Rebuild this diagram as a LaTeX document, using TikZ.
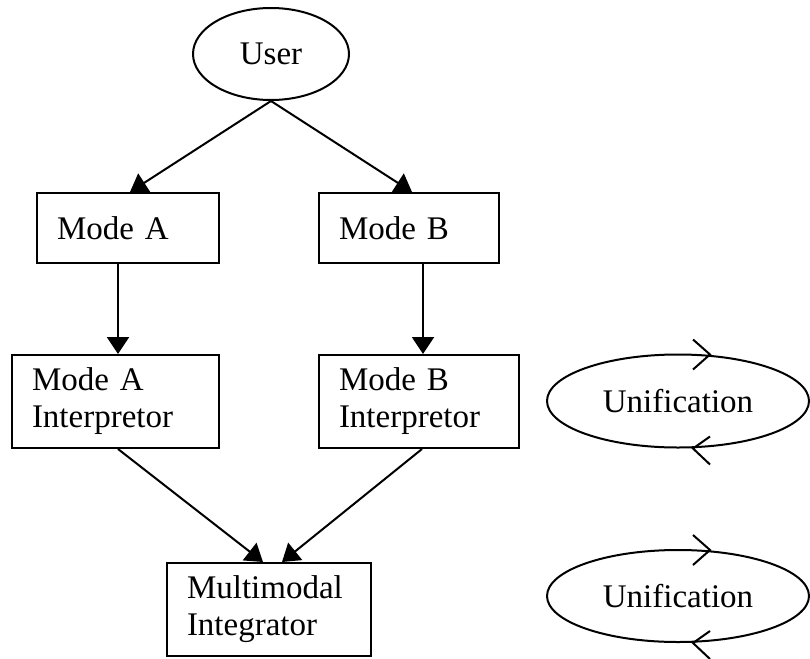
\documentclass[tikz,border=0pt]{standalone}
\usepackage{fontspec}
\setmainfont{Liberation Serif}
\usetikzlibrary{arrows.meta,shapes.geometric}
\begin{document}
\begin{tikzpicture}[x=1pt,y=-1pt,
  every node/.style={font=\fontsize{33}{37}\selectfont},
  boxnode/.style={draw,line width=2pt,rectangle,inner xsep=20pt,inner ysep=0pt,align=left},
  ellnode/.style={draw,line width=2pt,ellipse,inner sep=0pt},
  conn/.style={line width=2pt,-{Triangle[length=17pt,width=22pt]}},
  chev/.style={line width=2pt}]
\useasboundingbox (0,0) rectangle (810,658);
\node[ellnode,minimum width=156pt,minimum height=92pt] (user) at (271,54) {User};
\node[boxnode,minimum width=182pt,minimum height=70pt,text width=142pt] (ma) at (128,228) {Mode A};
\node[boxnode,minimum width=180pt,minimum height=70pt,text width=140pt] (mb) at (409,228) {Mode B};
\node[boxnode,minimum width=207pt,minimum height=93pt,text width=167pt] (mai) at (115.5,401.5) {Mode A\\Interpretor};
\node[boxnode,minimum width=200pt,minimum height=93pt,text width=160pt] (mbi) at (419,401.5) {Mode B\\Interpretor};
\node[boxnode,minimum width=204pt,minimum height=93pt,text width=164pt] (mi) at (269,609.5) {Multimodal\\Integrator};
\node[ellnode,minimum width=262pt,minimum height=93pt] (u1) at (678,401) {Unification};
\node[ellnode,minimum width=262pt,minimum height=92pt] (u2) at (678,596) {Unification};
\draw[conn] (user.south) -- ([xshift=2pt]ma.north);
\draw[conn] (user.south) -- ([xshift=3pt]mb.north);
\draw[conn] ([xshift=-10pt]ma.south) -- ([xshift=2.5pt]mai.north);
\draw[conn] ([xshift=14pt]mb.south) -- ([xshift=4pt]mbi.north);
\draw[conn] ([xshift=2.5pt]mai.south) -- ([xshift=-6pt]mi.north);
\draw[conn] ([xshift=3pt]mbi.south) -- ([xshift=13pt]mi.north);
\foreach \u in {u1,u2}{
  \draw[chev] ([shift={(15,-14)}]\u.north) -- ([shift={(32,1)}]\u.north) -- ([shift={(15,16)}]\u.north);
  \draw[chev] ([shift={(32,-12)}]\u.south) -- ([shift={(15,0)}]\u.south) -- ([shift={(32,16)}]\u.south);
}
\end{tikzpicture}
\end{document}
